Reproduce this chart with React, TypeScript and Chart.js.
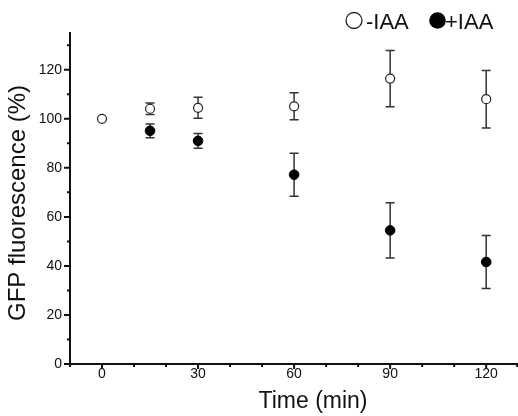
import React, { useEffect, useRef } from "react";
import { Chart, registerables } from "chart.js";

Chart.register(...registerables);

const minusTime = [0, 15, 30, 60, 90, 120];
const minusIAA = [100, 104.1, 104.5, 105.1, 116.4, 108];
const minusErr = [0, 2.3, 4.3, 5.5, 11.5, 11.7];

const plusTime = [15, 30, 60, 90, 120];
const plusIAA = [95.1, 91, 77.2, 54.5, 41.6];
const plusErr = [2.8, 3, 8.8, 11.3, 10.8];

const xMajor = [0, 30, 60, 90, 120];
const xMinor = [-10, 10, 20, 40, 50, 70, 80, 100, 110, 130];
const yMajor = [0, 20, 40, 60, 80, 100, 120];
const yMinor = [10, 30, 50, 70, 90, 110, 130];

const legendLabels = ["-IAA", "+IAA"];
const xTitle = "Time (min)";
const yTitle = "GFP fluorescence (%)";

const FONT = "'Liberation Sans', Arial, sans-serif";

const errors: number[][] = [minusErr, plusErr];

const customPlugin = {
  id: "custom",
  beforeDatasetsDraw(chart: any) {
    const ctx = chart.ctx;
    const xs = chart.scales.x;
    const ys = chart.scales.y;
    ctx.save();
    ctx.strokeStyle = "#333";
    ctx.lineWidth = 1.5;
    chart.data.datasets.forEach((ds: any, di: number) => {
      const err = errors[di];
      ds.data.forEach((p: any, i: number) => {
        const e = err[i];
        if (!e) return;
        const px = xs.getPixelForValue(p.x);
        const top = ys.getPixelForValue(p.y + e);
        const bot = ys.getPixelForValue(p.y - e);
        ctx.beginPath();
        ctx.moveTo(px, top);
        ctx.lineTo(px, bot);
        ctx.moveTo(px - 4.5, top);
        ctx.lineTo(px + 4.5, top);
        ctx.moveTo(px - 4.5, bot);
        ctx.lineTo(px + 4.5, bot);
        ctx.stroke();
      });
    });
    ctx.restore();
  },
  afterDraw(chart: any) {
    const ctx = chart.ctx;
    const xs = chart.scales.x;
    const ys = chart.scales.y;
    const area = chart.chartArea;
    ctx.save();
    ctx.strokeStyle = "#111";
    ctx.lineWidth = 2;
    ctx.beginPath();
    xMajor.forEach((v) => {
      const px = xs.getPixelForValue(v);
      ctx.moveTo(px, area.bottom);
      ctx.lineTo(px, area.bottom + 5);
    });
    xMinor.forEach((v) => {
      const px = Math.min(xs.getPixelForValue(v), area.right - 1);
      ctx.moveTo(px, area.bottom);
      ctx.lineTo(px, area.bottom + 3);
    });
    yMajor.forEach((v) => {
      const py = ys.getPixelForValue(v);
      ctx.moveTo(area.left, py);
      ctx.lineTo(area.left - 6, py);
    });
    yMinor.forEach((v) => {
      const py = ys.getPixelForValue(v);
      ctx.moveTo(area.left, py);
      ctx.lineTo(area.left - 3, py);
    });
    ctx.stroke();

    // axis titles
    ctx.fillStyle = "#111";
    ctx.font = `23px ${FONT}`;
    ctx.textAlign = "center";
    ctx.textBaseline = "alphabetic";
    ctx.fillText(xTitle, 313, 408);
    ctx.save();
    ctx.translate(25, 203);
    ctx.rotate(-Math.PI / 2);
    ctx.font = `24px ${FONT}`;
    ctx.fillText(yTitle, 0, 0);
    ctx.restore();

    // legend
    ctx.font = `22px ${FONT}`;
    ctx.textAlign = "left";
    ctx.lineWidth = 1.3;
    ctx.strokeStyle = "#222";
    ctx.beginPath();
    ctx.arc(354, 20.5, 8, 0, Math.PI * 2);
    ctx.fillStyle = "#fff";
    ctx.fill();
    ctx.stroke();
    ctx.fillStyle = "#111";
    ctx.fillText(legendLabels[0], 366, 28.5);
    ctx.beginPath();
    ctx.arc(437.5, 20.5, 8.3, 0, Math.PI * 2);
    ctx.fillStyle = "#000";
    ctx.fill();
    ctx.fillStyle = "#111";
    ctx.fillText(legendLabels[1], 445, 28.5);
    ctx.restore();
  },
};

export default function App() {
  const ref = useRef<HTMLCanvasElement>(null);
  useEffect(() => {
    if (!ref.current) return;
    const chart = new Chart(ref.current, {
      type: "scatter",
      data: {
        datasets: [
          {
            label: legendLabels[0],
            data: minusTime.map((t, i) => ({ x: t, y: minusIAA[i] })),
            pointRadius: 4.5,
            pointBackgroundColor: "#fff",
            pointBorderColor: "#222",
            pointBorderWidth: 1.2,
            showLine: false,
          },
          {
            label: legendLabels[1],
            data: plusTime.map((t, i) => ({ x: t, y: plusIAA[i] })),
            pointRadius: 4.8,
            pointBackgroundColor: "#000",
            pointBorderColor: "#000",
            pointBorderWidth: 1,
            showLine: false,
          },
        ],
      },
      plugins: [customPlugin],
      options: {
        animation: false,
        responsive: false,
        maintainAspectRatio: false,
        devicePixelRatio: 1,
        layout: { padding: { top: 33, left: 0, right: 0, bottom: 0 } },
        plugins: {
          legend: { display: false },
          tooltip: { enabled: false },
        },
        scales: {
          x: {
            type: "linear",
            min: -10,
            max: 130,
            afterFit: (s: any) => {
              s.height = 52;
              s.paddingLeft = 0;
              s.paddingRight = 0;
            },
            grid: { display: false, drawTicks: false },
            border: { display: true, color: "#111", width: 2 },
            ticks: {
              stepSize: 10,
              padding: 2,
              autoSkip: false,
              maxRotation: 0,
              color: "#111",
              font: { family: FONT, size: 14 },
              callback: (v: any) => (xMajor.includes(Number(v)) ? String(v) : ""),
            },
          },
          y: {
            type: "linear",
            min: 0,
            max: 135,
            afterFit: (s: any) => {
              s.width = 70;
              s.paddingTop = 0;
              s.paddingBottom = 0;
            },
            grid: { display: false, drawTicks: true, tickLength: 6 },
            border: { display: true, color: "#111", width: 2 },
            ticks: {
              stepSize: 10,
              padding: 2,
              autoSkip: false,
              color: "#111",
              font: { family: FONT, size: 14 },
              callback: (v: any) => (yMajor.includes(Number(v)) ? String(v) : ""),
            },
          },
        },
      },
    });
    return () => chart.destroy();
  }, []);
  return (
    <div
      style={{
        position: "absolute",
        left: 0,
        top: 0,
        width: 518,
        height: 416,
        overflow: "hidden",
        background: "#fff",
      }}
    >
      <canvas ref={ref} width={524} height={416} style={{ display: "block", width: 524, height: 416 }} />
    </div>
  );
}
